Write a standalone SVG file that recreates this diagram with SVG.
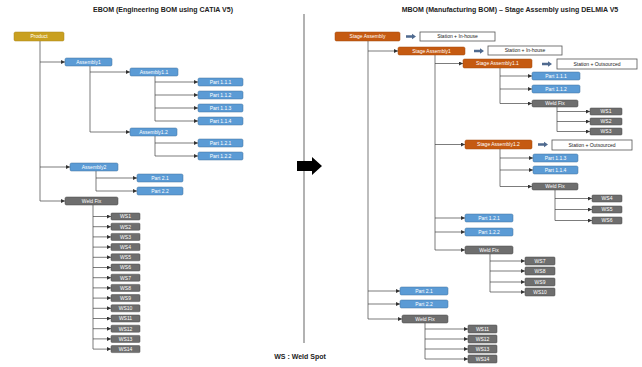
<svg xmlns="http://www.w3.org/2000/svg" width="642" height="367" viewBox="0 0 642 367">
<style>
text{font-family:"Liberation Sans",Arial,sans-serif}
.t{font-size:7px;font-weight:bold;fill:#222;text-anchor:middle}
.l{font-size:5px;fill:#fff;text-anchor:middle}
.d{font-size:5px;fill:#222;text-anchor:middle}
.gold{fill:#C9A020;stroke:#A8841A;stroke-width:.5}
.blue{fill:#5B9BD5;stroke:#41719C;stroke-width:.5}
.orng{fill:#C55A11;stroke:#A04A0E;stroke-width:.5}
.gray{fill:#6E6E6E;stroke:#4A4A4A;stroke-width:.5}
.wht{fill:#fff;stroke:#555;stroke-width:.8}
.c line{stroke:#444;stroke-width:.7;fill:none}
.c .a{marker-end:url(#ar)}
</style>
<defs>
<marker id="ar" viewBox="0 0 6 6" refX="6" refY="3" markerWidth="4" markerHeight="4" markerUnits="userSpaceOnUse" orient="auto"><path d="M0,0L6,3L0,6z" fill="#333"/></marker>
</defs>
<rect width="642" height="367" fill="#fff"/>
<text class="t" x="163" y="12">EBOM (Engineering BOM using CATIA V5)</text>
<text class="t" x="510" y="12">MBOM (Manufacturing BOM) – Stage Assembly using DELMIA V5</text>
<text class="t" x="300" y="359">WS : Weld Spot</text>
<line x1="304" y1="14" x2="304" y2="343" stroke="#999" stroke-width="1.5"/>
<polygon points="297,161 312,161 312,157 322,166 312,175 312,171 297,171" fill="#000"/>

<g class="c" id="connectors">
<!-- left -->
<line x1="40" y1="41" x2="40" y2="201"/>
<line class="a" x1="40" y1="62" x2="65" y2="62"/>
<line x1="90" y1="66" x2="90" y2="132"/>
<line class="a" x1="90" y1="72" x2="130" y2="72"/>
<line x1="155" y1="76" x2="155" y2="121"/>
<line class="a" x1="155" y1="82" x2="198" y2="82"/>
<line class="a" x1="155" y1="95" x2="198" y2="95"/>
<line class="a" x1="155" y1="108" x2="198" y2="108"/>
<line class="a" x1="155" y1="121" x2="198" y2="121"/>
<line class="a" x1="90" y1="132" x2="130" y2="132"/>
<line x1="155" y1="136" x2="155" y2="156"/>
<line class="a" x1="155" y1="143" x2="198" y2="143"/>
<line class="a" x1="155" y1="156" x2="198" y2="156"/>
<line class="a" x1="40" y1="167" x2="70" y2="167"/>
<line x1="96" y1="171" x2="96" y2="191"/>
<line class="a" x1="96" y1="178" x2="137" y2="178"/>
<line class="a" x1="96" y1="191" x2="137" y2="191"/>
<line class="a" x1="40" y1="201" x2="65" y2="201"/>
<line x1="93" y1="205" x2="93" y2="349"/>
<line class="a" x1="93" y1="216.5" x2="111" y2="216.5"/>
<line class="a" x1="93" y1="226.7" x2="111" y2="226.7"/>
<line class="a" x1="93" y1="236.9" x2="111" y2="236.9"/>
<line class="a" x1="93" y1="247.1" x2="111" y2="247.1"/>
<line class="a" x1="93" y1="257.3" x2="111" y2="257.3"/>
<line class="a" x1="93" y1="267.5" x2="111" y2="267.5"/>
<line class="a" x1="93" y1="277.7" x2="111" y2="277.7"/>
<line class="a" x1="93" y1="287.9" x2="111" y2="287.9"/>
<line class="a" x1="93" y1="298.1" x2="111" y2="298.1"/>
<line class="a" x1="93" y1="308.3" x2="111" y2="308.3"/>
<line class="a" x1="93" y1="318.5" x2="111" y2="318.5"/>
<line class="a" x1="93" y1="328.7" x2="111" y2="328.7"/>
<line class="a" x1="93" y1="338.9" x2="111" y2="338.9"/>
<line class="a" x1="93" y1="349.1" x2="111" y2="349.1"/>
<!-- right -->
<line x1="368" y1="41" x2="368" y2="319"/>
<line class="a" x1="368" y1="51" x2="398" y2="51"/>
<line x1="435" y1="55" x2="435" y2="250"/>
<line class="a" x1="435" y1="63.5" x2="463" y2="63.5"/>
<line x1="500" y1="68" x2="500" y2="103.5"/>
<line class="a" x1="500" y1="76" x2="532" y2="76"/>
<line class="a" x1="500" y1="89" x2="532" y2="89"/>
<line class="a" x1="500" y1="103.5" x2="532" y2="103.5"/>
<line x1="557" y1="107" x2="557" y2="131.5"/>
<line class="a" x1="557" y1="111.5" x2="590" y2="111.5"/>
<line class="a" x1="557" y1="121.5" x2="590" y2="121.5"/>
<line class="a" x1="557" y1="131.5" x2="590" y2="131.5"/>
<line class="a" x1="435" y1="144.5" x2="465" y2="144.5"/>
<line x1="500" y1="149" x2="500" y2="186.5"/>
<line class="a" x1="500" y1="158" x2="533" y2="158"/>
<line class="a" x1="500" y1="170" x2="533" y2="170"/>
<line class="a" x1="500" y1="186.5" x2="532" y2="186.5"/>
<line x1="555" y1="190" x2="555" y2="220.5"/>
<line class="a" x1="555" y1="198.5" x2="592" y2="198.5"/>
<line class="a" x1="555" y1="209.5" x2="592" y2="209.5"/>
<line class="a" x1="555" y1="220.5" x2="592" y2="220.5"/>
<line class="a" x1="435" y1="218" x2="465" y2="218"/>
<line class="a" x1="435" y1="232" x2="465" y2="232"/>
<line class="a" x1="435" y1="250" x2="465" y2="250"/>
<line x1="490" y1="254" x2="490" y2="292"/>
<line class="a" x1="490" y1="261" x2="525" y2="261"/>
<line class="a" x1="490" y1="271" x2="525" y2="271"/>
<line class="a" x1="490" y1="282" x2="525" y2="282"/>
<line class="a" x1="490" y1="292" x2="525" y2="292"/>
<line class="a" x1="368" y1="291" x2="400" y2="291"/>
<line class="a" x1="368" y1="304" x2="400" y2="304"/>
<line class="a" x1="368" y1="319" x2="402" y2="319"/>
<line x1="425" y1="323" x2="425" y2="359"/>
<line class="a" x1="425" y1="329" x2="468" y2="329"/>
<line class="a" x1="425" y1="339" x2="468" y2="339"/>
<line class="a" x1="425" y1="349" x2="468" y2="349"/>
<line class="a" x1="425" y1="359" x2="468" y2="359"/>
</g>

<!-- left nodes -->
<g id="product"><rect class="gold" x="14" y="32" width="50" height="9" rx="1.5"/><text class="l" x="39" y="38.3">Product</text></g>
<g id="asm1"><rect class="blue" x="65" y="58" width="47" height="8" rx="1.5"/><text class="l" x="88.5" y="63.8">Assembly1</text></g>
<g id="asm11"><rect class="blue" x="130" y="68" width="48" height="8" rx="1.5"/><text class="l" x="154" y="73.8">Assembly1.1</text></g>
<g id="p111"><rect class="blue" x="198" y="78" width="45" height="8" rx="1.5"/><text class="l" x="220.5" y="83.8">Part 1.1.1</text></g>
<g id="p112"><rect class="blue" x="198" y="91" width="45" height="8" rx="1.5"/><text class="l" x="220.5" y="96.8">Part 1.1.2</text></g>
<g id="p113"><rect class="blue" x="198" y="104" width="45" height="8" rx="1.5"/><text class="l" x="220.5" y="109.8">Part 1.1.3</text></g>
<g id="p114"><rect class="blue" x="198" y="117" width="45" height="8" rx="1.5"/><text class="l" x="220.5" y="122.8">Part 1.1.4</text></g>
<g id="asm12"><rect class="blue" x="130" y="128" width="47" height="8" rx="1.5"/><text class="l" x="153.5" y="133.8">Assembly1.2</text></g>
<g id="p121"><rect class="blue" x="198" y="139" width="45" height="8" rx="1.5"/><text class="l" x="220.5" y="144.8">Part 1.2.1</text></g>
<g id="p122"><rect class="blue" x="198" y="152" width="45" height="8" rx="1.5"/><text class="l" x="220.5" y="157.8">Part 1.2.2</text></g>
<g id="asm2"><rect class="blue" x="70" y="163" width="48" height="8" rx="1.5"/><text class="l" x="94" y="168.8">Assembly2</text></g>
<g id="p21"><rect class="blue" x="137" y="174" width="46" height="8" rx="1.5"/><text class="l" x="160" y="179.8">Part 2.1</text></g>
<g id="p22"><rect class="blue" x="137" y="187" width="46" height="8" rx="1.5"/><text class="l" x="160" y="192.8">Part 2.2</text></g>
<g id="weld"><rect class="gray" x="65" y="197" width="53" height="8" rx="1.5"/><text class="l" x="91.5" y="202.8">Weld Fix</text></g>
<g id="lws1"><rect class="gray" x="111" y="213" width="29" height="7" rx="1"/><text class="l" x="125.5" y="218.3">WS1</text></g>
<g id="lws2"><rect class="gray" x="111" y="223.2" width="29" height="7" rx="1"/><text class="l" x="125.5" y="228.5">WS2</text></g>
<g id="lws3"><rect class="gray" x="111" y="233.4" width="29" height="7" rx="1"/><text class="l" x="125.5" y="238.7">WS3</text></g>
<g id="lws4"><rect class="gray" x="111" y="243.6" width="29" height="7" rx="1"/><text class="l" x="125.5" y="248.9">WS4</text></g>
<g id="lws5"><rect class="gray" x="111" y="253.8" width="29" height="7" rx="1"/><text class="l" x="125.5" y="259.1">WS5</text></g>
<g id="lws6"><rect class="gray" x="111" y="264" width="29" height="7" rx="1"/><text class="l" x="125.5" y="269.3">WS6</text></g>
<g id="lws7"><rect class="gray" x="111" y="274.2" width="29" height="7" rx="1"/><text class="l" x="125.5" y="279.5">WS7</text></g>
<g id="lws8"><rect class="gray" x="111" y="284.4" width="29" height="7" rx="1"/><text class="l" x="125.5" y="289.7">WS8</text></g>
<g id="lws9"><rect class="gray" x="111" y="294.6" width="29" height="7" rx="1"/><text class="l" x="125.5" y="299.9">WS9</text></g>
<g id="lws10"><rect class="gray" x="111" y="304.8" width="29" height="7" rx="1"/><text class="l" x="125.5" y="310.1">WS10</text></g>
<g id="lws11"><rect class="gray" x="111" y="315" width="29" height="7" rx="1"/><text class="l" x="125.5" y="320.3">WS11</text></g>
<g id="lws12"><rect class="gray" x="111" y="325.2" width="29" height="7" rx="1"/><text class="l" x="125.5" y="330.5">WS12</text></g>
<g id="lws13"><rect class="gray" x="111" y="335.4" width="29" height="7" rx="1"/><text class="l" x="125.5" y="340.7">WS13</text></g>
<g id="lws14"><rect class="gray" x="111" y="345.6" width="29" height="7" rx="1"/><text class="l" x="125.5" y="350.9">WS14</text></g>

<!-- right nodes -->
<g id="stage"><rect class="orng" x="335" y="32" width="65" height="9" rx="1.5"/><text class="l" x="367.5" y="38.3">Stage Assembly</text></g>
<g id="st0"><polygon points="406,35.3 412,35.3 412,33.8 416,36.5 412,39.2 412,37.7 406,37.7" fill="#4F6A8F"/><rect class="wht" x="420" y="32" width="75" height="9"/><text class="d" x="457.5" y="38.3">Station + In-house</text></g>
<g id="sa1"><rect class="orng" x="398" y="47" width="67" height="8" rx="1.5"/><text class="l" x="431.5" y="52.8">Stage Assembly1</text></g>
<g id="st1"><polygon points="474,49.8 480,49.8 480,48.3 484,51 480,53.7 480,52.2 474,52.2" fill="#4F6A8F"/><rect class="wht" x="488" y="46" width="74" height="9"/><text class="d" x="525" y="52.3">Station + In-house</text></g>
<g id="sa11"><rect class="orng" x="463" y="59" width="69" height="9" rx="1.5"/><text class="l" x="497.5" y="65.3">Stage Assembly1.1</text></g>
<g id="st2"><polygon points="542,62.8 548,62.8 548,61.3 552,64 548,66.7 548,65.2 542,65.2" fill="#4F6A8F"/><rect class="wht" x="557" y="59" width="80" height="10"/><text class="d" x="597" y="65.8">Station + Outsourced</text></g>
<g id="rp111"><rect class="blue" x="532" y="72" width="48" height="8" rx="1.5"/><text class="l" x="556" y="77.8">Part 1.1.1</text></g>
<g id="rp112"><rect class="blue" x="532" y="85" width="48" height="8" rx="1.5"/><text class="l" x="556" y="90.8">Part 1.1.2</text></g>
<g id="rw1"><rect class="gray" x="532" y="100" width="46" height="7" rx="1.5"/><text class="l" x="555" y="105.3">Weld Fix</text></g>
<g id="rws1"><rect class="gray" x="590" y="108" width="32" height="7" rx="1"/><text class="l" x="606" y="113.3">WS1</text></g>
<g id="rws2"><rect class="gray" x="590" y="118" width="32" height="7" rx="1"/><text class="l" x="606" y="123.3">WS2</text></g>
<g id="rws3"><rect class="gray" x="590" y="128" width="32" height="7" rx="1"/><text class="l" x="606" y="133.3">WS3</text></g>
<g id="sa12"><rect class="orng" x="465" y="140" width="67" height="9" rx="1.5"/><text class="l" x="498.5" y="146.3">Stage Assembly1.2</text></g>
<g id="st3"><polygon points="538,143.3 544,143.3 544,141.8 548,144.5 544,147.2 544,145.7 538,145.7" fill="#4F6A8F"/><rect class="wht" x="552" y="140" width="80" height="10"/><text class="d" x="592" y="146.8">Station + Outsourced</text></g>
<g id="rp113"><rect class="blue" x="533" y="154" width="45" height="8" rx="1.5"/><text class="l" x="555.5" y="159.8">Part 1.1.3</text></g>
<g id="rp114"><rect class="blue" x="533" y="166" width="45" height="8" rx="1.5"/><text class="l" x="555.5" y="171.8">Part 1.1.4</text></g>
<g id="rw2"><rect class="gray" x="532" y="183" width="46" height="7" rx="1.5"/><text class="l" x="555" y="188.3">Weld Fix</text></g>
<g id="rws4"><rect class="gray" x="592" y="195" width="30" height="7" rx="1"/><text class="l" x="607" y="200.3">WS4</text></g>
<g id="rws5"><rect class="gray" x="592" y="206" width="30" height="7" rx="1"/><text class="l" x="607" y="211.3">WS5</text></g>
<g id="rws6"><rect class="gray" x="592" y="217" width="30" height="7" rx="1"/><text class="l" x="607" y="222.3">WS6</text></g>
<g id="rp121"><rect class="blue" x="465" y="214" width="48" height="8" rx="1.5"/><text class="l" x="489" y="219.8">Part 1.2.1</text></g>
<g id="rp122"><rect class="blue" x="465" y="228" width="48" height="8" rx="1.5"/><text class="l" x="489" y="233.8">Part 1.2.2</text></g>
<g id="rw3"><rect class="gray" x="465" y="246" width="48" height="8" rx="1.5"/><text class="l" x="489" y="251.8">Weld Fix</text></g>
<g id="rws7"><rect class="gray" x="525" y="257" width="30" height="8" rx="1"/><text class="l" x="540" y="262.8">WS7</text></g>
<g id="rws8"><rect class="gray" x="525" y="267" width="30" height="8" rx="1"/><text class="l" x="540" y="272.8">WS8</text></g>
<g id="rws9"><rect class="gray" x="525" y="278" width="30" height="8" rx="1"/><text class="l" x="540" y="283.8">WS9</text></g>
<g id="rws10"><rect class="gray" x="525" y="288" width="30" height="8" rx="1"/><text class="l" x="540" y="293.8">WS10</text></g>
<g id="rp21"><rect class="blue" x="400" y="287" width="48" height="8" rx="1.5"/><text class="l" x="424" y="292.8">Part 2.1</text></g>
<g id="rp22"><rect class="blue" x="400" y="300" width="48" height="8" rx="1.5"/><text class="l" x="424" y="305.8">Part 2.2</text></g>
<g id="rw4"><rect class="gray" x="402" y="315" width="46" height="8" rx="1.5"/><text class="l" x="425" y="320.8">Weld Fix</text></g>
<g id="rws11"><rect class="gray" x="468" y="325" width="29" height="8" rx="1"/><text class="l" x="482.5" y="330.8">WS11</text></g>
<g id="rws12"><rect class="gray" x="468" y="335" width="29" height="8" rx="1"/><text class="l" x="482.5" y="340.8">WS12</text></g>
<g id="rws13"><rect class="gray" x="468" y="345" width="29" height="8" rx="1"/><text class="l" x="482.5" y="350.8">WS13</text></g>
<g id="rws14"><rect class="gray" x="468" y="355" width="29" height="8" rx="1"/><text class="l" x="482.5" y="360.8">WS14</text></g>
</svg>
